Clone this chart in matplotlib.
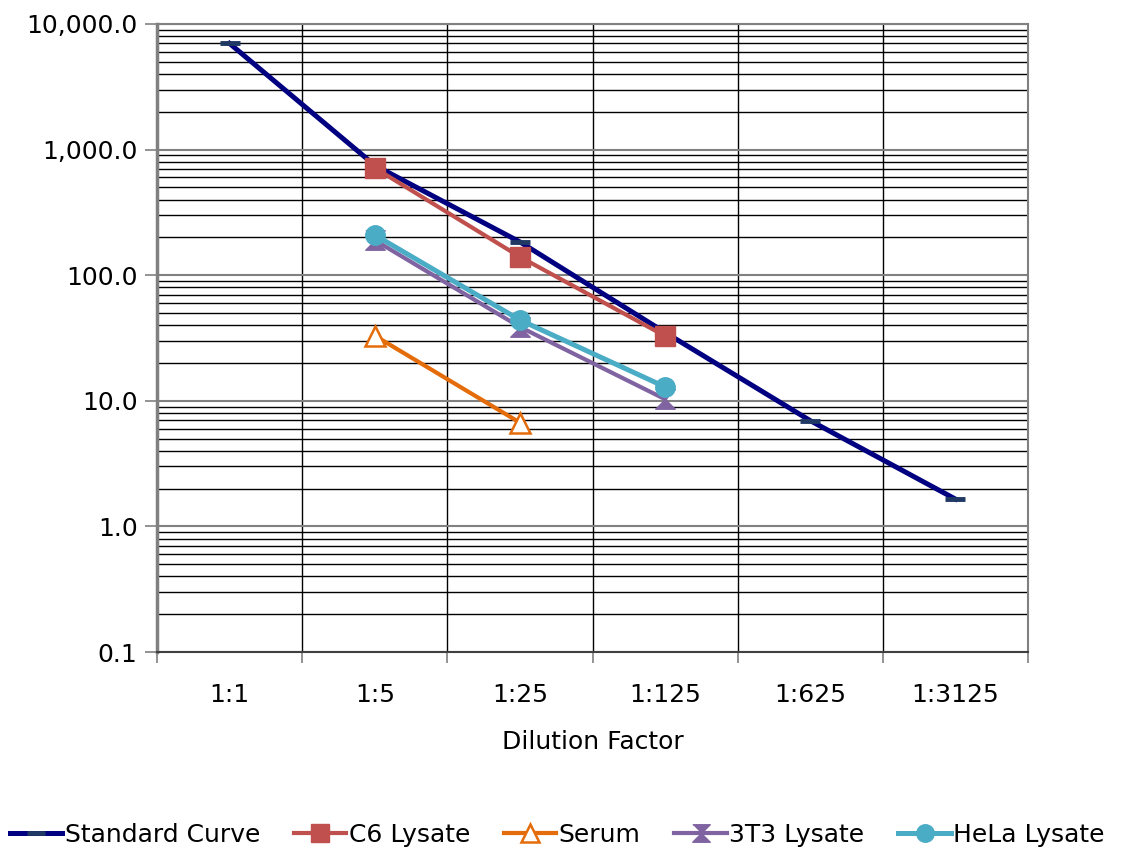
import matplotlib
matplotlib.use("Agg")
import matplotlib.pyplot as plt
import numpy as np
from matplotlib.ticker import FixedLocator, NullFormatter, FuncFormatter

categories = ["1:1", "1:5", "1:25", "1:125", "1:625", "1:3125"]
standard = [7000, 750, 184, 35, 6.95, 1.65]
c6 = [None, 714, 140, 32.8, None, None]
serum = [None, 33, 6.7, None, None, None]
t3 = [None, 190, 38.7, 10.3, None, None]
hela = [None, 209, 44, 12.9, None, None]

def arr(v):
    return np.array([np.nan if a is None else a for a in v], dtype=float)

plt.rcParams['font.family'] = ['DejaVu Sans']
FS = 18
fig = plt.figure(figsize=(11.28, 8.52), dpi=100)
ax = fig.add_axes([157/1128, 1-652/852, (1028-157)/1128, (652-24)/852])
x = np.arange(len(categories))

hour = [(-1, 1), (1, 1), (0, 0), (1, -1), (-1, -1), (0, 0)]

ax.plot(x, arr(standard), color="#000080", lw=3.6, marker="_", ms=14, mew=3.5, mec="#1F3864", label="Standard Curve", zorder=3)
ax.plot(x, arr(c6), color="#C0504D", lw=3, marker="s", ms=14, mec="#C0504D", label="C6 Lysate", zorder=4)
ax.plot(x, arr(serum), color="#E46C0A", lw=3, marker="^", ms=14, mfc="white", mec="#E46C0A", mew=1.8, label="Serum", zorder=4)
ax.plot(x, arr(t3), color="#8064A2", lw=3, marker=hour, ms=14, mec="#8064A2", label="3T3 Lysate", zorder=4)
ax.plot(x, arr(hela), color="#4BACC6", lw=3.6, marker="o", ms=14, mec="#4BACC6", label="HeLa Lysate", zorder=5)

ax.set_yscale("log")
ax.set_ylim(0.1, 10000)
ax.set_xlim(-0.5, 5.5)

majors = [0.1, 1, 10, 100, 1000, 10000]
minors = [m * d for d in [0.1, 1, 10, 100, 1000] for m in range(2, 10)]
ax.yaxis.set_major_locator(FixedLocator(majors))
ax.yaxis.set_minor_locator(FixedLocator(minors))
ax.yaxis.set_minor_formatter(NullFormatter())
ax.yaxis.set_major_formatter(FuncFormatter(lambda v, p: f"{v:,.1f}"))
ax.tick_params(axis="y", which="major", length=9, width=1.2, color="#808080", labelsize=FS, pad=5)
ax.tick_params(axis="y", which="minor", length=0)
ax.grid(True, axis="y", which="major", color="#808080", lw=1.5, zorder=0)
ax.grid(True, axis="y", which="minor", color="black", lw=1.0, zorder=0)

ax.set_xticks(x)
ax.set_xticklabels(categories)
ax.set_xticks(np.arange(-0.5, 6.0, 1.0), minor=True)
ax.tick_params(axis="x", which="major", length=0, labelsize=FS, pad=22)
ax.tick_params(axis="x", which="minor", length=8, width=1.2, color="#808080")
ax.grid(True, axis="x", which="minor", color="black", lw=1.0, zorder=0)
ax.grid(False, axis="x", which="major")

for s in ax.spines.values():
    s.set_color("#808080")
    s.set_linewidth(1.5)
ax.spines["left"].set_linewidth(2.5)
ax.spines["bottom"].set_color("#404040")

ax.set_xlabel("Dilution Factor", fontsize=FS, labelpad=17)

fig.legend(loc="center", bbox_to_anchor=(0.494, 1-835/852), ncol=5, frameon=False,
           fontsize=FS, handlelength=2.1, handletextpad=0.1, columnspacing=1.35,
           markerscale=0.9)

fig.savefig("out.png", dpi=100)
